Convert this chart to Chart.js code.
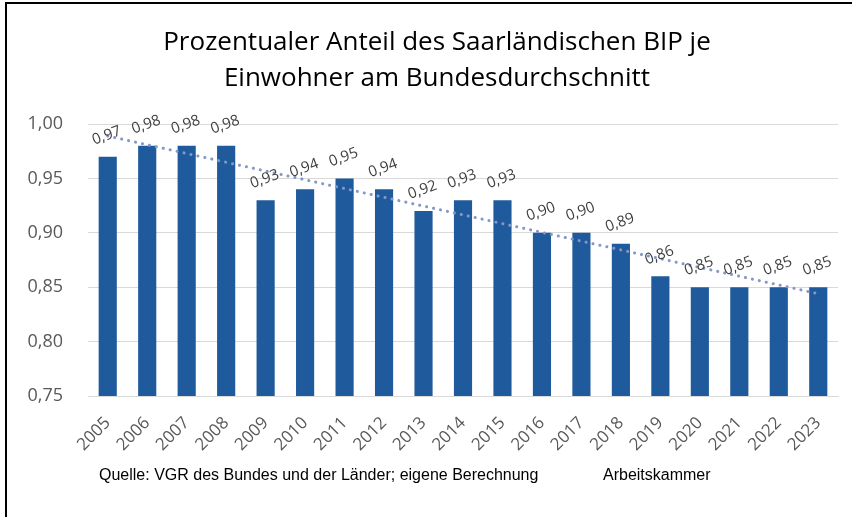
<!DOCTYPE html>
<html>
<head>
<meta charset="utf-8">
<script src="https://cdn.jsdelivr.net/npm/chart.js@4.4.1/dist/chart.umd.min.js"></script>
<style>
  html, body { margin: 0; padding: 0; background: #fff; overflow: hidden; }
  #wrap { position: relative; width: 852px; height: 517px; }
  #frame { position: absolute; left: 5px; top: 2px; width: 900px; height: 600px;
           border-left: 2px solid #000; border-top: 2px solid #000; pointer-events: none; }
</style>
</head>
<body>
<div id="wrap">
  <canvas id="chart" width="852" height="517"></canvas>
  <div id="frame"></div>
</div>
<script>
// Werte
var jahre = ["2005", "2006", "2007", "2008", "2009", "2010", "2011", "2012", "2013", "2014",
             "2015", "2016", "2017", "2018", "2019", "2020", "2021", "2022", "2023"];
var anteil = [0.97, 0.98, 0.98, 0.98, 0.93, 0.94, 0.95, 0.94, 0.92, 0.93,
              0.93, 0.90, 0.90, 0.89, 0.86, 0.85, 0.85, 0.85, 0.85];
var trendStart = 0.989;
var trendEnde = 0.844;
var titelZeilen = ["Prozentualer Anteil des Saarländischen BIP je", "Einwohner am Bundesdurchschnitt"];
var quelle = "Quelle: VGR des Bundes und der Länder; eigene Berechnung";
var herausgeber = "Arbeitskammer";

var trend = jahre.map(function (j, i) {
  if (i == 0) return trendStart;
  if (i == jahre.length - 1) return trendEnde;
  return null;
});

function komma(v) {
  return v.toFixed(2).replace(".", ",");
}

// Titel, Quelle und Datenbeschriftungen selbst zeichnen
var extras = {
  id: "extras",
  afterDatasetsDraw: function (chart) {
    var ctx = chart.ctx;
    var meta = chart.getDatasetMeta(1);
    ctx.save();
    ctx.fillStyle = "#404040";
    ctx.font = "15px 'Open Sans'";
    ctx.textAlign = "center";
    ctx.textBaseline = "middle";
    meta.data.forEach(function (bar, i) {
      ctx.save();
      ctx.translate(bar.x - 1, bar.y - 21);
      ctx.rotate(-20 * Math.PI / 180);
      ctx.fillText(komma(anteil[i]), 0, 0);
      ctx.restore();
    });
    ctx.restore();
  },
  afterDraw: function (chart) {
    var ctx = chart.ctx;
    ctx.save();
    ctx.fillStyle = "#000";
    ctx.textAlign = "center";
    ctx.textBaseline = "alphabetic";
    ctx.font = "26px 'Open Sans'";
    ctx.fillText(titelZeilen[0], 437, 50);
    ctx.fillText(titelZeilen[1], 437, 86);
    ctx.textAlign = "left";
    ctx.font = "16px 'Liberation Sans'";
    ctx.fillText(quelle, 99, 480);
    ctx.fillText(herausgeber, 603, 480);
    ctx.restore();
  }
};

var chart = new Chart("chart", {
  type: "bar",
  data: {
    labels: jahre,
    datasets: [
      {
        type: "line",
        data: trend,
        spanGaps: true,
        borderColor: "#8497C9",
        borderWidth: 3,
        borderDash: [0.1, 7],
        borderCapStyle: "round",
        pointRadius: 0,
        fill: false,
        order: 0
      },
      {
        data: anteil,
        backgroundColor: "#1F5B9C",
        categoryPercentage: 1,
        barPercentage: 0.46,
        order: 1
      }
    ]
  },
  plugins: [extras],
  options: {
    responsive: false,
    animation: false,
    layout: { padding: { top: 124, right: 14, left: 0, bottom: 0 } },
    plugins: {
      legend: { display: false },
      title: { display: false },
      tooltip: { enabled: false }
    },
    scales: {
      x: {
        grid: { display: false },
        border: { color: "#D9D9D9", width: 1 },
        ticks: {
          color: "#595959",
          font: { family: "'Open Sans'", size: 17 },
          minRotation: 45,
          maxRotation: 45,
          padding: 9
        },
        afterFit: function (s) { s.height = 121; }
      },
      y: {
        min: 0.75,
        max: 1.0,
        grid: { color: "#D9D9D9", drawTicks: false },
        border: { display: false },
        ticks: {
          stepSize: 0.05,
          color: "#595959",
          font: { family: "'Open Sans'", size: 18 },
          padding: 25,
          callback: function (v) { return komma(v); }
        },
        afterFit: function (s) { s.width = 88; }
      }
    }
  }
});
</script>
</body>
</html>
